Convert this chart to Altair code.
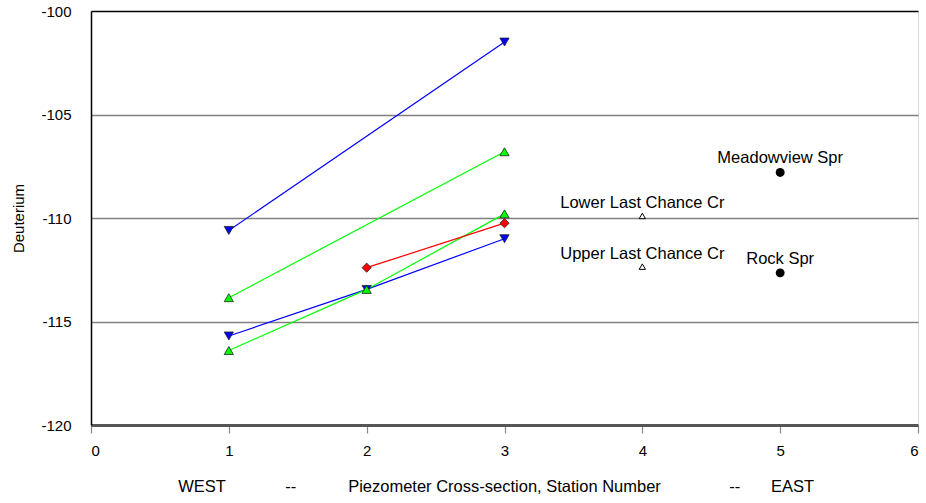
import altair as alt
import pandas as pd

# ---- data ----
series_ids = ["A", "B", "D", "C", "E"]
series_x = {
    "A": [1, 3],
    "B": [1, 3],
    "C": [1, 2, 3],
    "D": [1, 2, 3],
    "E": [2, 3],
}
series_y = {
    "A": [-110.6, -101.5],
    "B": [-113.85, -106.8],
    "C": [-116.4, -113.45, -109.8],
    "D": [-115.7, -113.45, -111.0],
    "E": [-112.4, -110.25],
}
series_color = ["#0000ff", "#00ff00", "#0000ff", "#00ff00", "#ff0000"]
series_shape = ["triangle-down", "triangle-up", "triangle-down", "triangle-up", "diamond"]

creek_x = [4, 4]
creek_y = [-109.9, -112.35]
creek_names = ["Lower Last Chance Cr", "Upper Last Chance Cr"]

spring_x = [5, 5]
spring_y = [-107.8, -112.65]
spring_names = ["Meadowview Spr", "Rock Spr"]

x_title_parts = ["WEST", "--", "Piezometer Cross-section, Station Number", "--", "EAST"]
x_title_pos = [0.805, 1.45, 3.0, 4.67, 5.09]

x_ticks = [0, 1, 2, 3, 4, 5, 6]
y_ticks = [-120, -115, -110, -105, -100]

FONT = "Liberation Sans"

rows = []
for i, s in enumerate(series_ids):
    for xv, yv in zip(series_x[s], series_y[s]):
        rows.append({"series": s, "order": i, "station": xv, "deut": yv})
df = pd.DataFrame(rows)

creeks = pd.DataFrame({"station": creek_x, "deut": creek_y, "name": creek_names})
springs = pd.DataFrame({"station": spring_x, "deut": spring_y, "name": spring_names})
titles = pd.DataFrame({"pos": x_title_pos, "label": x_title_parts})

xscale = alt.Scale(domain=[0, 6], nice=False, zero=False)
yscale = alt.Scale(domain=[-120, -100], nice=False, zero=False)

xenc = alt.X(
    "station:Q", scale=xscale, title=None,
    axis=alt.Axis(values=x_ticks, grid=False, domainColor="#555555", domainWidth=3,
                  tickColor="#888888", tickSize=8, tickWidth=1.2,
                  labelFontSize=15, labelFont=FONT, labelColor="black",
                  labelPadding=10, labelExpr="datum.value + ''"),
)
yenc = alt.Y(
    "deut:Q", scale=yscale, title="Deuterium",
    axis=alt.Axis(values=y_ticks, grid=True,
                  gridColor={"condition": {"test": "datum.value === -100", "value": "black"},
                             "value": "#808080"},
                  gridWidth=1.5,
                  domainColor="black", domainWidth=1.5, ticks=False,
                  labelFontSize=15, labelFont=FONT, labelColor="black",
                  labelPadding=20, titleFont=FONT, titleFontSize=15,
                  titleFontWeight="normal", titleColor="black", titlePadding=14,
                  labelExpr="datum.value + ''"),
)

cscale = alt.Scale(domain=series_ids, range=series_color)
sscale = alt.Scale(domain=series_ids, range=series_shape)

lines = alt.Chart(df).mark_line(strokeWidth=1.2).encode(
    x=xenc, y=yenc,
    color=alt.Color("series:N", scale=cscale, legend=None),
    detail="series:N",
)
pts = alt.Chart(df).mark_point(filled=True, size=85, stroke="#222222", strokeWidth=0.8, opacity=1).encode(
    x="station:Q", y="deut:Q",
    fill=alt.Fill("series:N", scale=cscale, legend=None),
    shape=alt.Shape("series:N", scale=sscale, legend=None),
    order=alt.Order("order:Q"),
)

creek_pts = alt.Chart(creeks).mark_point(shape="triangle-up", size=40, fill="white",
                                         filled=True, stroke="black", strokeWidth=1, opacity=1).encode(
    x="station:Q", y="deut:Q")
creek_txt = alt.Chart(creeks).mark_text(dy=-13, fontSize=16.5, font=FONT, color="black").encode(
    x="station:Q", y="deut:Q", text="name:N")

spring_pts = alt.Chart(springs).mark_circle(size=80, color="black", opacity=1).encode(
    x="station:Q", y="deut:Q")
spring_txt = alt.Chart(springs).mark_text(dy=-14, fontSize=16.5, font=FONT, color="black").encode(
    x="station:Q", y="deut:Q", text="name:N")

xtitle = alt.Chart(titles).mark_text(fontSize=16.5, font=FONT, color="black", baseline="middle").encode(
    x=alt.X("pos:Q", scale=xscale),
    y=alt.value(476),
    text="label:N",
)

chart = alt.layer(lines, pts, creek_pts, creek_txt, spring_pts, spring_txt, xtitle).properties(
    width=827, height=414,
    autosize=alt.AutoSizeParams(type="none"),
    padding={"left": 91, "top": 11, "right": 8, "bottom": 78},
).configure_view(stroke="black", strokeWidth=1.5).configure(background="white")

chart.save("out.html", embed_options={"renderer": "svg", "actions": False})
